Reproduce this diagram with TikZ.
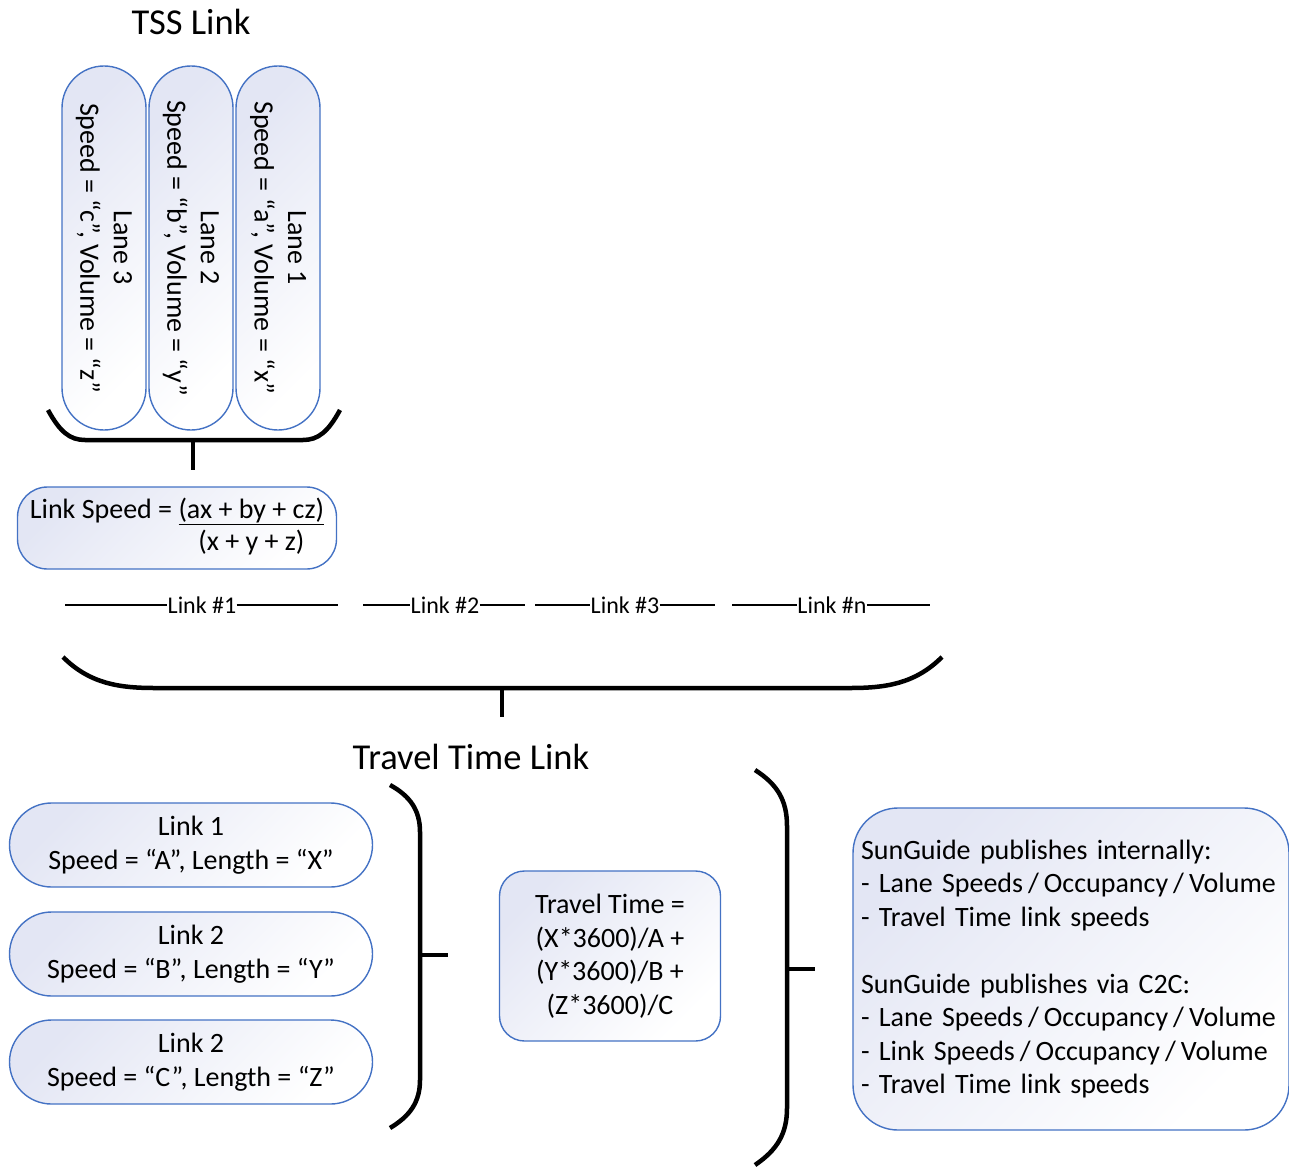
\documentclass[tikz,border=0pt]{standalone}
\usepackage{fontspec}
\setmainfont{Carlito}
\usetikzlibrary{positioning}

\definecolor{boxline}{HTML}{4472C4}
\definecolor{boxtint}{HTML}{E3E6F4}

\newcommand\slsep{\hspace{5pt}/\hspace{5pt}}

\tikzset{
  pill/.style={draw=boxline, line width=1.4pt, shading=axis, top color=boxtint,
    bottom color=white, shading angle=45, align=center, inner sep=0pt},
  brace/.style={line width=4.5pt, line cap=butt},
  linkline/.style={line width=1.2pt},
  txt/.style={font=\fontsize{28}{33.5}\selectfont},
}

\begin{document}
\begin{tikzpicture}[x=1pt, y=-1pt]
  \useasboundingbox (0,0) rectangle (1289,1169);

  % Titles
  \node[font=\fontsize{36.5}{40}\selectfont] (tsstitle) at (191,22) {TSS Link};
  \node[font=\fontsize{36.5}{40}\selectfont] (tttitle) at (471,757) {Travel Time Link};

  % Lanes
  \node[pill, txt, rotate=-90, minimum width=364pt, minimum height=84pt, rounded corners=42pt]
    (lane3) at (104,248) {Lane 3\\Speed = “c”, Volume = “z”};
  \node[pill, txt, rotate=-90, minimum width=364pt, minimum height=84pt, rounded corners=42pt]
    (lane2) at (191,248) {Lane 2\\Speed = “b”, Volume = “y”};
  \node[pill, txt, rotate=-90, minimum width=364pt, minimum height=84pt, rounded corners=42pt]
    (lane1) at (278,248) {Lane 1\\Speed = “a”, Volume = “x”};

  % Bracket under lanes
  \draw[brace] (48,410) .. controls (60,432) and (70,440) .. (85,440) -- (303,440)
    .. controls (318,440) and (328,432) .. (340,410);
  \coordinate (lanesum) at (193,440);
  \coordinate (lanestem) at (193,470);
  \draw[brace] (lanesum) -- (lanestem);

  % Link speed formula
  \node[pill, txt, minimum width=319pt, minimum height=82pt, rounded corners=30pt]
    (linkspeed) at (177,528)
    {Link Speed = \begin{tabular}[t]{@{}c@{}}\underline{(ax + by + cz)}\\[-1pt](x + y + z)\end{tabular}};

  % Links
  \begin{scope}[font=\fontsize{24}{26}\selectfont, inner sep=0pt]
    \node (link1) at (202,605) {Link \#1};
    \node (link2) at (445,605) {Link \#2};
    \node (link3) at (625,605) {Link \#3};
    \node (linkn) at (832,605) {Link \#n};
  \end{scope}
  \coordinate (l1a) at (65,605);  \coordinate (l1b) at (338,605);
  \coordinate (l2a) at (363,605); \coordinate (l2b) at (525,605);
  \coordinate (l3a) at (535,605); \coordinate (l3b) at (715,605);
  \coordinate (lna) at (732,605); \coordinate (lnb) at (930,605);
  \draw[linkline] (l1a) -- (link1.west) (link1.east) -- (l1b);
  \draw[linkline] (l2a) -- (link2.west) (link2.east) -- (l2b);
  \draw[linkline] (l3a) -- (link3.west) (link3.east) -- (l3b);
  \draw[linkline] (lna) -- (linkn.west) (linkn.east) -- (lnb);

  % Bracket under links
  \draw[brace] (63,657) .. controls (90,684) and (120,688) .. (155,688) -- (850,688)
    .. controls (885,688) and (915,684) .. (942,657);
  \coordinate (linksum) at (502,688);
  \coordinate (linkstem) at (502,717);
  \draw[brace] (linksum) -- (linkstem);

  % Travel time links
  \node[pill, txt, minimum width=363pt, minimum height=84pt, rounded corners=42pt]
    (tt1) at (191,845) {Link 1\\Speed = “A”, Length = “X”};
  \node[pill, txt, minimum width=363pt, minimum height=84pt, rounded corners=42pt]
    (tt2) at (191,954) {Link 2\\Speed = “B”, Length = “Y”};
  \node[pill, txt, minimum width=363pt, minimum height=84pt, rounded corners=42pt]
    (tt3) at (191,1062) {Link 2\\Speed = “C”, Length = “Z”};

  \draw[brace] (390,785) .. controls (410,796) and (420,810) .. (420,832) -- (420,1080)
    .. controls (420,1102) and (410,1116) .. (390,1128);
  \coordinate (ttsum) at (420,955);
  \coordinate (ttstem) at (448,955);
  \draw[brace] (ttsum) -- (ttstem);

  % Travel time formula
  \node[pill, txt, minimum width=221pt, minimum height=170pt, rounded corners=25pt]
    (ttime) at (610,956) {Travel Time =\\(X*3600)/A +\\(Y*3600)/B +\\(Z*3600)/C};

  \draw[brace] (755,770) .. controls (777,784) and (787,800) .. (787,826) -- (787,1108)
    .. controls (787,1134) and (777,1150) .. (755,1165);
  \coordinate (pubsum) at (787,969);
  \coordinate (pubstem) at (815,969);
  \draw[brace] (pubsum) -- (pubstem);

  % Publishing
  \node[pill, txt, align=left, text width=420pt, minimum width=436pt, minimum height=322pt,
    rounded corners=45pt] (publish) at (1071,969)
    {SunGuide publishes internally:\\
     - Lane Speeds\slsep Occupancy\slsep Volume\\
     - Travel Time link speeds\\[33.5pt]
     SunGuide publishes via C2C:\\
     - Lane Speeds\slsep Occupancy\slsep Volume\\
     - Link Speeds\slsep Occupancy\slsep Volume\\
     - Travel Time link speeds};
\end{tikzpicture}
\end{document}
